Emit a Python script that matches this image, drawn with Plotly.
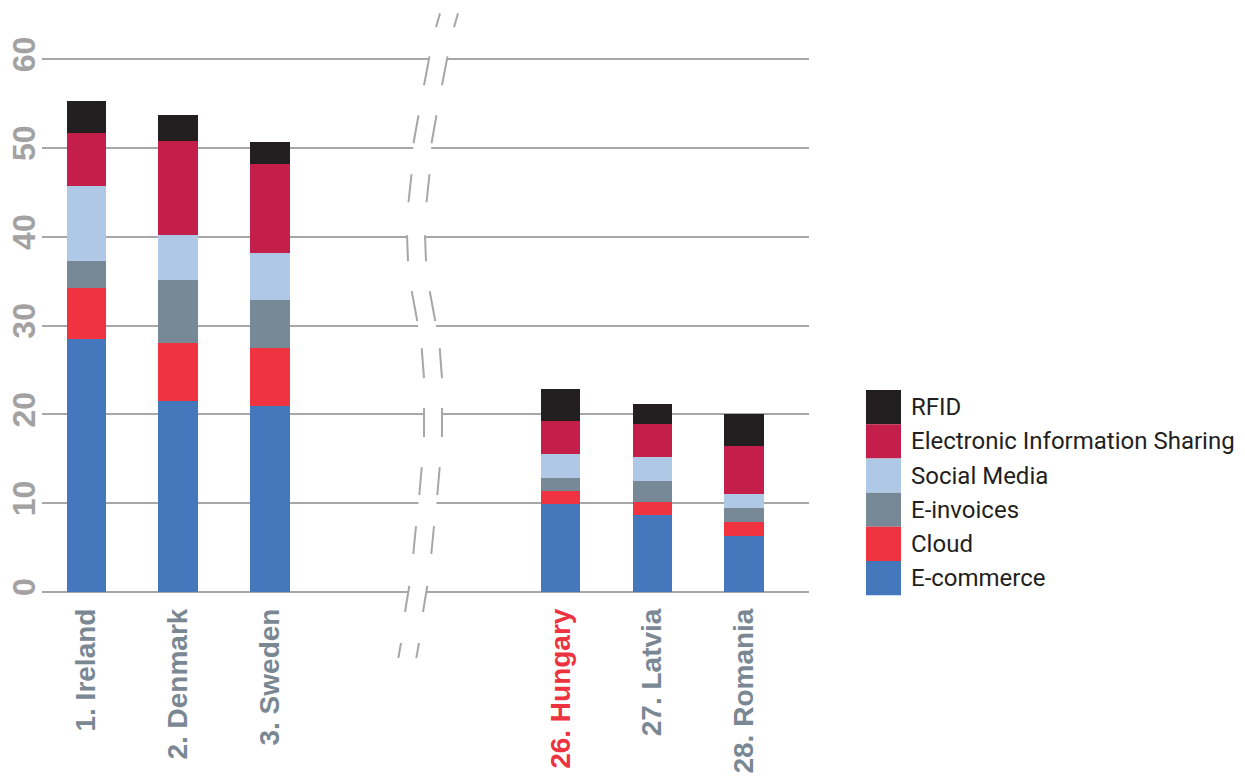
import plotly.graph_objects as go

# ---------------- data ----------------
countries = ["1. Ireland", "2. Denmark", "3. Sweden", "26. Hungary", "27. Latvia", "28. Romania"]
highlight = "26. Hungary"

series_names = ["E-commerce", "Cloud", "E-invoices", "Social Media", "Electronic Information Sharing", "RFID"]
ecommerce = [28.5, 21.5, 21.0, 9.9, 8.65, 6.3]
cloud = [5.7, 6.55, 6.5, 1.45, 1.45, 1.6]
einvoices = [3.1, 7.1, 5.4, 1.45, 2.35, 1.55]
social_media = [8.45, 5.1, 5.3, 2.8, 2.8, 1.6]
info_sharing = [6.0, 10.6, 10.05, 3.7, 3.7, 5.4]
rfid = [3.6, 2.85, 2.45, 3.6, 2.25, 3.6]
y_ticks = [0, 10, 20, 30, 40, 50, 60]

# ---------------- style ----------------
colors = ["#4477bb", "#ef3340", "#778896", "#aec8e6", "#c41e4a", "#231f20"]
values = [ecommerce, cloud, einvoices, social_media, info_sharing, rfid]
GRID = "#a8a6a6"
GAP = 3.166
xpos = [0, 1, 2, 2 + GAP, 3 + GAP, 4 + GAP]

# plot area in pixels (y range padded so the top gridline is drawn)
L, R, T, B = 42, 809, 59, 592
YPAD = 0.6
PXU = (B - T) / 60.0
T_AX = T - YPAD * PXU
W, H = R - L, B - T_AX


def px(x):
    return (x - L) / W


def py(y):
    return (B - y) / H


fig = go.Figure()
for name, vals, col in zip(series_names, values, colors):
    fig.add_trace(go.Bar(x=xpos, y=vals, name=name, marker=dict(color=col, line=dict(width=0)),
                         width=0.428, showlegend=False))

ticktext = []
for c in countries:
    if c == highlight:
        ticktext.append('<b><span style="color:#ee3340">%s</span></b>' % c)
    else:
        ticktext.append("<b>%s</b>" % c)

shapes = []
annotations = []

# axis break: white mask + double dashed curve
curve = [(440, 13), (436, 27), (429.5, 56), (424, 85), (418.5, 115), (413.5, 143), (411.5, 174), (408.5, 202),
         (407, 235), (408, 261), (411.7, 291), (417.3, 321), (421.7, 348), (424, 378), (424, 408), (424, 437),
         (421.7, 467), (419.3, 495), (416, 526), (413.3, 554), (409.3, 586), (405, 612), (401, 643), (398.3, 658)]
OFF = 18
pts = [(px(x), py(y)) for x, y in curve] + [(px(x + OFF), py(y)) for x, y in reversed(curve)]
path = "M " + " L ".join("%.5f %.5f" % p for p in pts) + " Z"
shapes.append(dict(type="path", xref="paper", yref="paper", path=path, fillcolor="white",
                   line=dict(width=0), layer="above"))
for off in (0, OFF):
    for i in range(0, len(curve), 2):
        (x0, y0), (x1, y1) = curve[i], curve[i + 1]
        shapes.append(dict(type="line", xref="paper", yref="paper", x0=px(x0 + off), y0=py(y0),
                           x1=px(x1 + off), y1=py(y1), line=dict(color=GRID, width=2), layer="above"))

# legend (drawn manually, top to bottom)
LX0, LX1, LY0, LH = 866, 901, 390, 34.2
for i, (name, col) in enumerate(reversed(list(zip(series_names, colors)))):
    y0 = LY0 + i * LH
    shapes.append(dict(type="rect", xref="paper", yref="paper", x0=px(LX0), x1=px(LX1),
                       y0=py(y0), y1=py(y0 + LH), fillcolor=col, line=dict(width=0), layer="above"))
    annotations.append(dict(xref="paper", yref="paper", x=px(909), y=py(y0 + LH / 2), text=name,
                            showarrow=False, xanchor="left", yanchor="middle",
                            font=dict(family="Roboto", size=24, color="#231f20")))

fig.update_layout(
    width=1245, height=780,
    margin=dict(l=L, r=1245 - R, t=T_AX, b=780 - B, autoexpand=False),
    barmode="stack",
    paper_bgcolor="white", plot_bgcolor="white",
    shapes=shapes, annotations=annotations,
    xaxis=dict(range=[-0.483, 7.873], tickvals=xpos, ticktext=ticktext, tickangle=-90,
               showgrid=False, zeroline=False, showline=False, ticks="",
               tickfont=dict(family="Liberation Sans", size=28, color="#7a8894"),
               ticklabelstandoff=10),
    yaxis=dict(range=[0, 60 + YPAD], tickvals=y_ticks, ticktext=["<b>%d</b>" % v for v in y_ticks],
               tickangle=-90, showgrid=True, gridcolor=GRID, gridwidth=2,
               zeroline=True, zerolinecolor=GRID, zerolinewidth=2, showline=False, ticks="",
               tickfont=dict(family="Liberation Sans", size=32, color="#a3a1a1")),
)

fig.write_html("out.html")
